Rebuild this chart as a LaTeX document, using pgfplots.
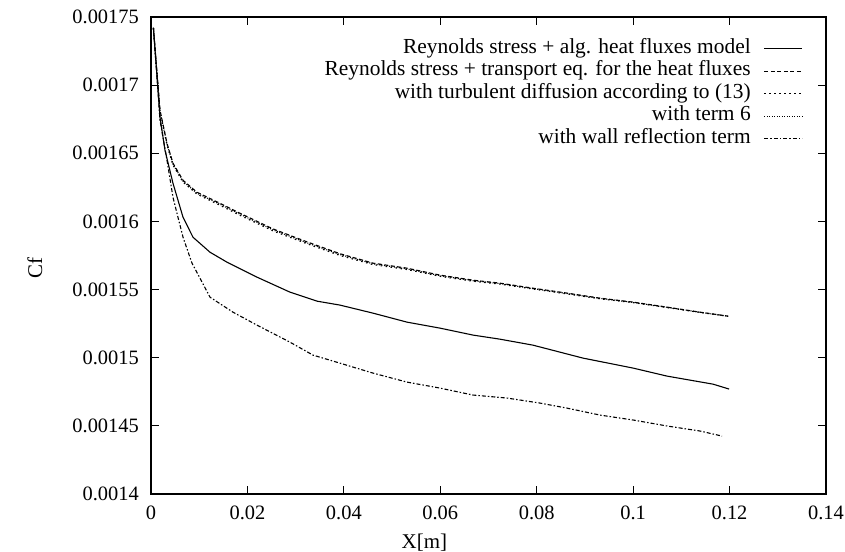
\documentclass[border=0pt]{standalone}
\usepackage{fontspec}
\setmainfont{Liberation Serif}
\usepackage{pgfplots}
\pgfplotsset{compat=1.18}
\begin{document}
\fontsize{21}{25}\selectfont
\begin{tikzpicture}
\path[use as bounding box] (-151bp,-58bp) rectangle (694bp,494bp);
\begin{axis}[
  at={(0,0)}, anchor=south west,
  scale only axis, width=675bp, height=477bp,
  xmin=0, xmax=0.14, ymin=0.0014, ymax=0.00175,
  xtick={0,0.02,0.04,0.06,0.08,0.1,0.12,0.14},
  ytick={0.0014,0.00145,0.0015,0.00155,0.0016,0.00165,0.0017,0.00175},
  scaled x ticks=false, scaled y ticks=false,
  xticklabel style={/pgf/number format/fixed, /pgf/number format/precision=2, yshift=-5bp},
  yticklabel style={/pgf/number format/fixed, /pgf/number format/precision=5, xshift=-5bp},
  /pgf/number format/assume math mode=true,
  tick align=inside, major tick length=8bp,
  axis line style={line width=1.4pt},
  every tick/.style={line width=1.2pt, black},
  tick label style={font=\fontsize{20.5}{24}\selectfont},
  label style={font=\fontsize{21}{25}\selectfont},
  xlabel={X[m]}, ylabel={Cf},
  every axis x label/.style={at={(axis description cs:0.405,-0.1027)}, anchor=center},
  every axis y label/.style={at={(axis description cs:-0.172,0.474)}, anchor=center, rotate=90},
  legend style={draw=none, fill=none, at={(1,1)}, anchor=north east, xshift=-23bp, yshift=-21bp,
    inner sep=0pt, row sep=1.5bp, font=\fontsize{21.5}{25}\selectfont,
    nodes={inner sep=1bp, text height=14bp, text depth=5bp}},
  legend plot pos=right, legend cell align=right,
  legend image code/.code={\path (0bp,0bp); \draw[#1] (12bp,0bp) -- (50bp,0bp);},
  every axis plot/.append style={line width=1.1pt, black},
]
\addplot[solid] coordinates {
(0.0005,0.001742) (0.00187,0.0016764) (0.0029,0.0016522) (0.00456,0.001628) (0.00664,0.0016031)
(0.00871,0.0015884) (0.01224,0.0015774) (0.01576,0.0015701) (0.02199,0.0015591) (0.02883,0.0015481)
(0.03443,0.0015415) (0.0392,0.0015386) (0.04605,0.0015327) (0.0531,0.0015261) (0.05995,0.0015217)
(0.06679,0.0015166) (0.07239,0.0015136) (0.07924,0.0015092) (0.08961,0.0014997) (0.09998,0.0014924)
(0.10703,0.0014865) (0.11657,0.0014806) (0.1199,0.001477)};
\addlegendentry{Reynolds stress + alg. heat fluxes model}
\addplot[dash pattern=on 4bp off 2.5bp] coordinates {
(0.0005,0.001742) (0.00187,0.0016815) (0.00332,0.0016573) (0.00456,0.0016427) (0.00664,0.0016302)
(0.00954,0.0016214) (0.01431,0.0016133) (0.01846,0.001606) (0.02531,0.0015945) (0.03236,0.001585)
(0.0392,0.0015763) (0.04605,0.0015694) (0.0531,0.0015657) (0.05995,0.0015606) (0.06679,0.0015569)
(0.07239,0.0015547) (0.07924,0.001551) (0.08629,0.0015474) (0.09313,0.0015437) (0.09998,0.0015408)
(0.10703,0.0015371) (0.11388,0.0015334) (0.11969,0.0015305)};
\addlegendentry{Reynolds stress + transport eq. for the heat fluxes}
\addplot[dash pattern=on 1.5bp off 3.5bp] coordinates {
(0.0005,0.001742) (0.00187,0.0016805) (0.00332,0.0016560) (0.00456,0.0016413) (0.00664,0.0016288)
(0.00954,0.0016200) (0.01431,0.0016118) (0.01846,0.0016045) (0.02531,0.0015930) (0.03236,0.0015836)
(0.0392,0.0015750) (0.04605,0.0015683) (0.0531,0.0015647) (0.05995,0.0015597) (0.06679,0.0015561)
(0.07239,0.0015540) (0.07924,0.0015504) (0.08629,0.0015468) (0.09313,0.0015432) (0.09998,0.0015404)
(0.10703,0.0015368) (0.11388,0.0015332) (0.11969,0.0015304)};
\addlegendentry{with turbulent diffusion according to (13)}
\addplot[dash pattern=on 1bp off 1.5bp] coordinates {
(0.0005,0.001742) (0.00187,0.0016810) (0.00332,0.0016567) (0.00456,0.0016420) (0.00664,0.0016295)
(0.00954,0.0016207) (0.01431,0.0016126) (0.01846,0.0016053) (0.02531,0.0015938) (0.03236,0.0015843)
(0.0392,0.0015757) (0.04605,0.0015689) (0.0531,0.0015652) (0.05995,0.0015602) (0.06679,0.0015565)
(0.07239,0.0015544) (0.07924,0.0015507) (0.08629,0.0015471) (0.09313,0.0015435) (0.09998,0.0015406)
(0.10703,0.0015370) (0.11388,0.0015333) (0.11969,0.0015305)};
\addlegendentry{with term 6}
\addplot[dash pattern=on 4bp off 2bp on 1.5bp off 2bp] coordinates {
(0.0005,0.001742) (0.00187,0.0016742) (0.00332,0.0016449) (0.00456,0.0016177) (0.00664,0.0015884)
(0.0085,0.0015694) (0.01224,0.0015444) (0.01701,0.0015334) (0.02199,0.0015239) (0.02883,0.0015114)
(0.0336,0.0015019) (0.0392,0.001496) (0.04605,0.0014887) (0.0531,0.0014821) (0.05995,0.0014777)
(0.06679,0.0014726) (0.07384,0.0014704) (0.08069,0.0014667) (0.08629,0.001463) (0.09313,0.0014579)
(0.09998,0.0014543) (0.10703,0.0014499) (0.11388,0.0014462) (0.11844,0.0014425)};
\addlegendentry{with wall reflection term}
\end{axis}
\end{tikzpicture}
\end{document}
